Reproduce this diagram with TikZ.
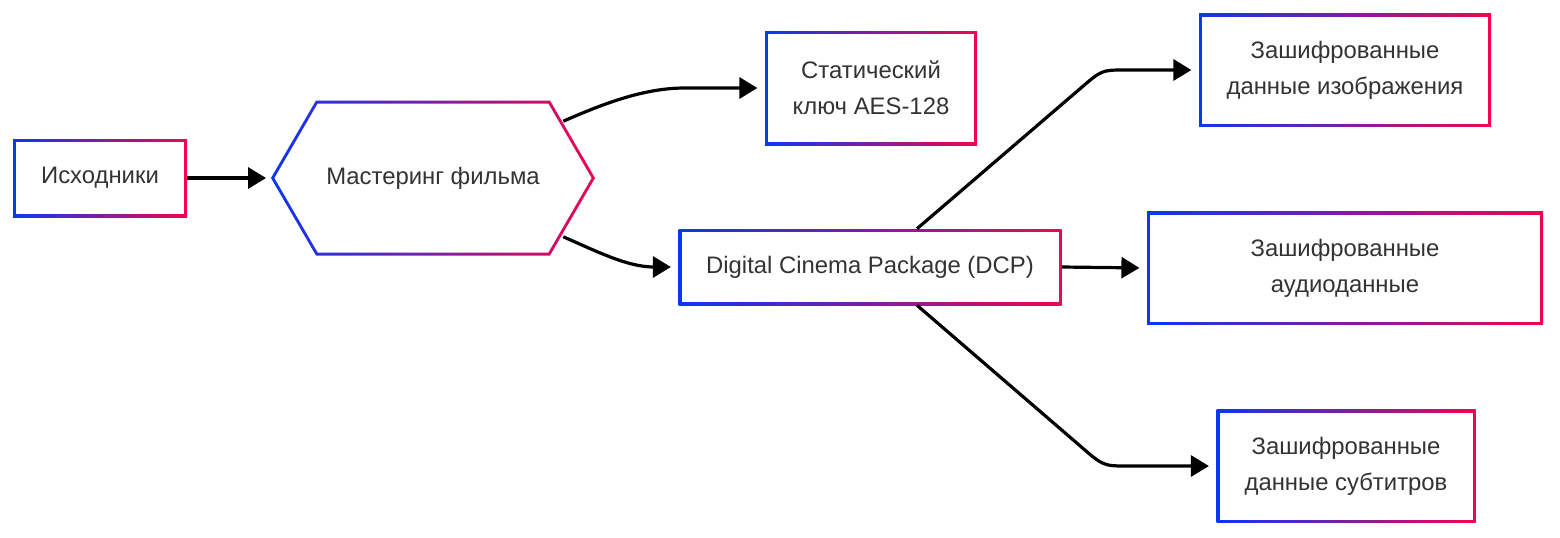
\documentclass[tikz,border=0pt]{standalone}
\usepackage{fontspec}
\setmainfont{Liberation Sans}
\usepackage{tikz}
\usetikzlibrary{arrows.meta, calc, positioning}

\definecolor{cblue}{RGB}{10,55,245}
\definecolor{cred}{RGB}{240,5,80}
\definecolor{txt}{RGB}{51,51,51}

\tikzset{
  box/.style={rectangle, inner sep=0pt, align=center, text=txt,
    font=\fontsize{17.9pt}{27pt}\selectfont,
    left color=cblue, right color=cred,
    path picture={\fill[white] ([shift={(2.25pt,-2.25pt)}]path picture bounding box.north west)
      rectangle ([shift={(-2.25pt,2.25pt)}]path picture bounding box.south east);}},
  hexbox/.style={rectangle, inner sep=0pt, align=center, text=txt,
    font=\fontsize{17.9pt}{27pt}\selectfont,
    path picture={
      \shade[left color=cblue, right color=cred]
        (path picture bounding box.west)
        -- ([xshift=33.75pt]path picture bounding box.north west)
        -- ([xshift=-33.75pt]path picture bounding box.north east)
        -- (path picture bounding box.east)
        -- ([xshift=-33.75pt]path picture bounding box.south east)
        -- ([xshift=33.75pt]path picture bounding box.south west) -- cycle;
      \fill[white]
        ([xshift=2.6pt]path picture bounding box.west)
        -- ([xshift=35.05pt,yshift=-2.25pt]path picture bounding box.north west)
        -- ([xshift=-35.05pt,yshift=-2.25pt]path picture bounding box.north east)
        -- ([xshift=-2.6pt]path picture bounding box.east)
        -- ([xshift=-35.05pt,yshift=2.25pt]path picture bounding box.south east)
        -- ([xshift=35.05pt,yshift=2.25pt]path picture bounding box.south west) -- cycle;}},
  flow/.style={draw=black, line width=2.4pt, -{Triangle[length=13.5pt,width=15.75pt]}, shorten >=5.5pt}
}

\begin{document}
\begin{tikzpicture}[x=0.75pt, y=-0.75pt]
    \useasboundingbox (0,0) rectangle (1560,537);

    % Sources and mastering
    \node at (100,178) [box, minimum width=130.5pt, minimum height=58.5pt] (src) {Исходники};
    \node at (433,178) [hexbox, minimum width=243pt, minimum height=116.25pt] (mast) {Мастеринг фильма};

    % Key and package
    \node at (871,88) [box, minimum width=159pt, minimum height=85.5pt] (aes) {Статический\\ключ AES-128};
    \node at (870,267) [box, minimum width=287.25pt, minimum height=57pt] (dcp) {Digital Cinema Package (DCP)};

    % Encrypted streams
    \node at (1345,70) [box, minimum width=219pt, minimum height=84.75pt] (img) {Зашифрованные\\данные изображения};
    \node at (1345,268) [box, minimum width=297pt, minimum height=84.75pt] (aud) {Зашифрованные\\аудиоданные};
    \node at (1346,466) [box, minimum width=194.25pt, minimum height=84.75pt] (sub) {Зашифрованные\\данные субтитров};

    % Connectors
    \draw [flow, shorten >=3.5pt] (src.east) -- (mast.west);
    \draw [flow] ($(mast.north east)+(-32,21)$)
        .. controls ($(aes.west)+(-160,15)$) and ($(aes.west)+(-120,0)$) .. ($(aes.west)+(-80,0)$) -- (aes.west);
    \draw [flow] ($(mast.south east)+(-32,-19)$)
        .. controls ($(dcp.west)+(-78,-14)$) and ($(dcp.west)+(-50,0)$) .. ($(dcp.west)+(-24,0)$) -- (dcp.west);
    \draw [flow] ($(dcp.north)+(47,0)$) -- ($(img.west)+(-119,19)$)
        .. controls ($(img.west)+(-97,0)$) .. ($(img.west)+(-74,0)$) -- (img.west);
    \draw [flow] (dcp.east) -- (aud.west);
    \draw [flow] ($(dcp.south)+(47,0)$) -- ($(sub.west)+(-136,-20)$)
        .. controls ($(sub.west)+(-113,0)$) .. ($(sub.west)+(-88,0)$) -- (sub.west);
\end{tikzpicture}
\end{document}
